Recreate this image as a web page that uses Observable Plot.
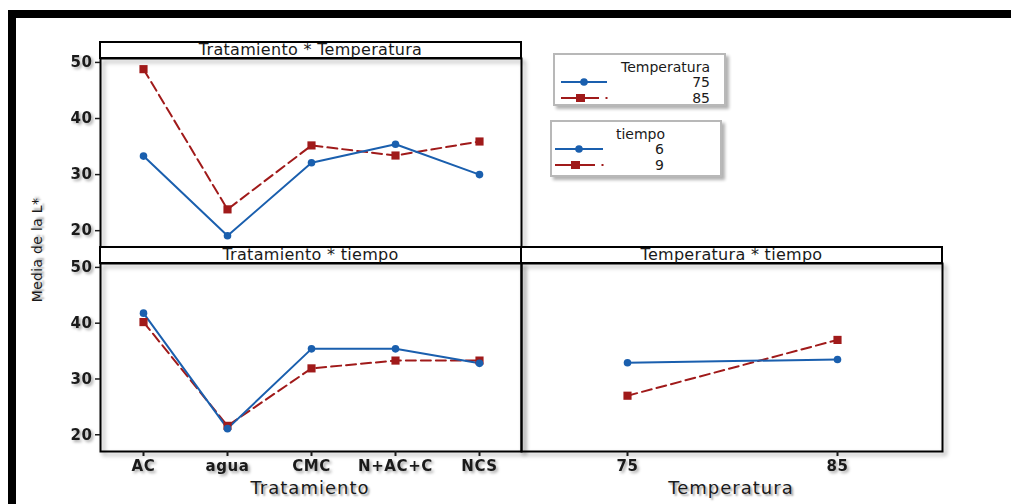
<!DOCTYPE html>
<html><head><meta charset="utf-8">
<script src="https://cdn.jsdelivr.net/npm/d3@7"></script>
<script src="https://cdn.jsdelivr.net/npm/@observablehq/plot@0.6"></script>
<style>
body{margin:0;background:#fff;}
#root{position:relative;width:1011px;height:504px;overflow:hidden;background:#fff;font-family:"DejaVu Sans",sans-serif;color:#1a1a1a;}
.abs{position:absolute;}
.pw{position:absolute;}
.pw svg{overflow:visible;background:transparent;display:block;}
.pw [aria-label="frame"]{filter:drop-shadow(3px 3px 2px rgba(0,0,0,0.35));}
.pw [aria-label="y-axis tick label"], .pw [aria-label="x-axis tick label"]{filter:drop-shadow(2px 2px 1.5px rgba(0,0,0,0.35));font-weight:bold;letter-spacing:0.6px;}
.hdr{position:absolute;box-sizing:border-box;border:2px solid #000;background:#fff;text-align:center;font-size:16px;line-height:13px;letter-spacing:0.3px;white-space:nowrap;overflow:visible;}
.ttl{position:absolute;transform:translate(-50%,-50%);white-space:nowrap;text-shadow:2px 2px 2px rgba(0,0,0,0.35);letter-spacing:1px;}
.leg{position:absolute;box-sizing:border-box;border:2px solid #b8b8b8;background:#fff;box-shadow:3px 3px 3px rgba(0,0,0,0.3);font-size:14px;}
.leg div{position:absolute;white-space:nowrap;line-height:14px;}
</style>
</head><body>
<div id="root"></div>
<script>
// ---- data ----
const tratamientos = ["AC", "agua", "CMC", "N+AC+C", "NCS"];
const temperaturas = [75, 85];
const tiempos = [6, 9];
const tratTemp75 = [33.3, 19.1, 32.1, 35.4, 30.0];
const tratTemp85 = [48.8, 23.8, 35.2, 33.4, 35.9];
const tratTiempo6 = [41.8, 21.1, 35.4, 35.4, 32.8];
const tratTiempo9 = [40.2, 21.6, 31.9, 33.3, 33.3];
const tempTiempo6 = [32.9, 33.5];
const tempTiempo9 = [27.0, 37.0];
const yTicks = [20, 30, 40, 50];
const yDomain = [17, 50.7];
const panelTitles = ["Tratamiento * Temperatura", "Tratamiento * tiempo", "Temperatura * tiempo"];
const yLabel = "Media de la L*";
const xLabels = ["Tratamiento", "Temperatura"];

const BLUE = "#1a5fae", RED = "#a01a1a";
const root = document.getElementById("root");

function toRows(xs, ys) { return xs.map((x, i) => ({x, y: ys[i]})); }

function seriesMarks(rowsA, rowsB) {
  return [
    Plot.line(rowsB, {x: "x", y: "y", stroke: RED, strokeWidth: 2, strokeDasharray: "10,5"}),
    Plot.line(rowsA, {x: "x", y: "y", stroke: BLUE, strokeWidth: 2}),
    Plot.dot(rowsB, {x: "x", y: "y", symbol: "square", r: 4.6, fill: RED}),
    Plot.dot(rowsA, {x: "x", y: "y", r: 3.8, fill: BLUE})
  ];
}

function panel({left, top, width, height, mt, mr, mb, ml, xDomain, a, b, showY, showX}) {
  const marks = [Plot.frame({stroke: "#000", strokeWidth: 2}), ...seriesMarks(a, b)];
  if (showY) marks.push(Plot.axisY({ticks: yTicks, tickSize: 5, tickPadding: 3, fontSize: 15, label: null, strokeWidth: 1.5}));
  else marks.push(Plot.axisY({ticks: [], label: null}));
  if (showX) marks.push(Plot.axisX({tickSize: 5, tickPadding: 4, fontSize: 15, label: null, strokeWidth: 2}));
  else marks.push(Plot.axisX({ticks: [], label: null}));
  const p = Plot.plot({
    width, height, marginTop: mt, marginRight: mr, marginBottom: mb, marginLeft: ml,
    style: {background: "transparent", overflow: "visible", fontFamily: "DejaVu Sans, sans-serif", color: "#1a1a1a"},
    x: {type: "point", domain: xDomain, padding: 0.5},
    y: {domain: yDomain},
    marks
  });
  const w = document.createElement("div");
  w.className = "pw";
  w.style.left = left + "px"; w.style.top = top + "px";
  w.appendChild(p);
  root.appendChild(w);
}

// outer black frame
const of = document.createElement("div");
of.className = "abs";
Object.assign(of.style, {left: "8px", top: "10px", width: "1100px", height: "600px", borderTop: "8px solid #000", borderLeft: "8px solid #000"});
root.appendChild(of);

// panel 1: Tratamiento * Temperatura
panel({left: 0, top: 0, width: 530, height: 260, mt: 58, mr: 9, mb: 13, ml: 100,
  xDomain: tratamientos, a: toRows(tratamientos, tratTemp75), b: toRows(tratamientos, tratTemp85), showY: true, showX: false});
// panel 2: Tratamiento * tiempo
panel({left: 0, top: 247, width: 530, height: 257, mt: 16, mr: 9, mb: 53, ml: 100,
  xDomain: tratamientos, a: toRows(tratamientos, tratTiempo6), b: toRows(tratamientos, tratTiempo9), showY: true, showX: true});
// panel 3: Temperatura * tiempo
panel({left: 520, top: 247, width: 432, height: 257, mt: 16, mr: 10, mb: 53, ml: 1,
  xDomain: temperaturas, a: toRows(temperaturas, tempTiempo6), b: toRows(temperaturas, tempTiempo9), showY: false, showX: true});

// headers
function header(text, left, top, width, height) {
  const d = document.createElement("div");
  d.className = "hdr";
  Object.assign(d.style, {left: left + "px", top: top + "px", width: width + "px", height: height + "px"});
  d.textContent = text;
  root.appendChild(d);
}
header(panelTitles[0], 99, 41, 423, 18);
header(panelTitles[1], 99, 246, 423, 18);
header(panelTitles[2], 520, 246, 423, 18);

// titles
function title(text, x, y, size, rot) {
  const d = document.createElement("div");
  d.className = "ttl";
  d.style.left = x + "px"; d.style.top = y + "px"; d.style.fontSize = size + "px";
  if (rot) { d.style.transform = "translate(-50%,-50%) rotate(-90deg)"; d.style.letterSpacing = "0.3px"; }
  d.textContent = text;
  root.appendChild(d);
}
title(yLabel, 37, 250, 14, true);
title(xLabels[0], 310, 487, 18, false);
title(xLabels[1], 731, 487, 18, false);

// legends
function legend({left, top, width, height, name, values, titleRight, valRight, lineX0, lineX1}) {
  const box = document.createElement("div");
  box.className = "leg";
  Object.assign(box.style, {left: left + "px", top: top + "px", width: width + "px", height: height + "px"});
  const t = document.createElement("div");
  t.textContent = name; t.style.right = titleRight + "px"; t.style.top = "5px";
  box.appendChild(t);
  values.forEach((v, i) => {
    const yy = 20 + i * 16;
    const l = document.createElement("div");
    l.textContent = v; l.style.right = valRight + "px"; l.style.top = yy + "px";
    box.appendChild(l);
    const svg = d3.create("svg").attr("width", 60).attr("height", 14)
      .style("position", "absolute").style("left", lineX0 + "px").style("top", yy + "px");
    const cy = 7, len = lineX1 - lineX0;
    if (i === 0) {
      svg.append("line").attr("x1", 0).attr("x2", len).attr("y1", cy).attr("y2", cy).attr("stroke", BLUE).attr("stroke-width", 2);
      svg.append("circle").attr("cx", len / 2).attr("cy", cy).attr("r", 3.8).attr("fill", BLUE);
    } else {
      svg.append("line").attr("x1", 0).attr("x2", len - 8).attr("y1", cy).attr("y2", cy).attr("stroke", RED).attr("stroke-width", 2);
      svg.append("rect").attr("x", len / 2 - 8).attr("y", cy - 4).attr("width", 9).attr("height", 8).attr("fill", RED);
      svg.append("rect").attr("x", len - 1.5).attr("y", cy - 1).attr("width", 2).attr("height", 2).attr("fill", RED);
    }
    box.appendChild(svg.node());
  });
  root.appendChild(box);
}
legend({left: 553, top: 53, width: 173, height: 53, name: "Temperatura", values: temperaturas, titleRight: 14, valRight: 14, lineX0: 6, lineX1: 52});
legend({left: 550, top: 120, width: 172, height: 57, name: "tiempo", values: tiempos, titleRight: 55, valRight: 56, lineX0: 3, lineX1: 51});
</script>
</body></html>
